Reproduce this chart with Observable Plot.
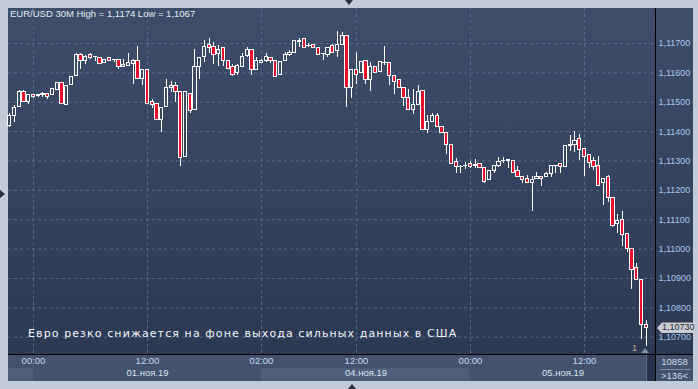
<!DOCTYPE html>
<html><head><meta charset="utf-8">
<script src="https://cdn.jsdelivr.net/npm/d3@7"></script>
<script src="https://cdn.jsdelivr.net/npm/@observablehq/plot@0.6"></script>
<style>
html,body{margin:0;padding:0;background:#c2ccd8;}
#wrap{position:relative;width:698px;height:389px;overflow:hidden;background:#c2ccd8;font-family:"Liberation Sans",Arial,sans-serif;}
#wrap div{position:absolute;}
.bgmain{left:8px;top:8px;width:685px;height:346px;background:linear-gradient(#3e4d6a,#2c3953);}
.bgbottom{left:8px;top:355px;width:685px;height:26px;background:#44526e;}
#plot{left:0;top:0;}
.tri{width:0;height:0;}
</style></head><body>
<div id="wrap">
  <div class="bgmain"></div>
  <div class="bgbottom"></div>
  <div id="plot"></div>
  <div style="left:655px;top:8px;width:1px;height:373px;background:#000"></div>
  <div style="left:8px;top:354px;width:685px;height:1px;background:#000"></div>
  <div style="left:646px;top:355px;width:8px;height:26px;background:#27324c;border-left:1px solid #5e6d88"></div>
  <div id="title" style="left:10px;top:8px;font-size:9.5px;line-height:11px;color:#e6ecf4;white-space:nowrap">EUR/USD 30M High = 1,1174 Low = 1,1067</div>
  <div id="msg" style="left:28px;top:327px;font-family:'DejaVu Sans',sans-serif;font-size:11px;line-height:13px;letter-spacing:1.1px;color:#f4f6f8;white-space:nowrap">Евро резко снижается на фоне выхода сильных данных в США</div>
  <div style="left:632px;top:343px;font-size:9px;line-height:11px;color:#c9b08c">1</div>
  <div class="tri" style="left:641px;top:348px;border-left:4px solid transparent;border-right:4px solid transparent;border-bottom:5px solid #7d8ba3"></div>
  <div style="left:656px;top:356px;width:37px;text-align:center;font-size:9.5px;line-height:11px;color:#d4dce8">10858</div>
  <div style="left:660px;top:369px;width:31px;height:1px;background:#7b8aa3"></div>
  <div style="left:656px;top:370px;width:37px;text-align:center;font-size:9.5px;line-height:11px;color:#d4dce8">&gt;136&lt;</div>
  <div class="tri" style="left:345px;top:0px;border-left:4px solid transparent;border-right:4px solid transparent;border-top:5px solid #2a2f38"></div>
  <div class="tri" style="left:0px;top:190px;border-top:4px solid transparent;border-bottom:4px solid transparent;border-left:5px solid #2a2f38"></div>
  <div class="tri" style="left:348px;top:384px;border-left:4px solid transparent;border-right:4px solid transparent;border-bottom:5px solid #2a2f38"></div>
  <div id="pricebox" style="left:657px;width:36px;height:11px;background:#c9cdd3;clip-path:polygon(0 50%,5px 0,100% 0,100% 100%,5px 100%);"></div>
  <div id="pricetxt" style="left:662px;font-size:9px;line-height:11px;color:#2a2e36"></div>
</div>
<script>
// 30-minute candles, EUR/USD, 31.10.19 21:30 .. 05.11.19 18:30 (index = candle number)
const opens = [1.11420,1.11452,1.11483,1.11536,1.11502,1.11525,1.11521,1.11526,1.11528,1.11525,
1.11543,1.11566,1.11492,1.11559,1.11588,1.11662,1.11639,1.11661,1.11653,1.11651,
1.11634,1.11651,1.11644,1.11644,1.11621,1.11622,1.11631,1.11639,1.11579,1.11610,
1.11502,1.11494,1.11440,1.11483,1.11549,1.11557,1.11534,1.11312,1.11528,1.11474,
1.11621,1.11653,1.11695,1.11689,1.11665,1.11684,1.11639,1.11621,1.11598,1.11621,
1.11659,1.11678,1.11611,1.11634,1.11642,1.11651,1.11639,1.11593,1.11639,1.11661,
1.11668,1.11704,1.11716,1.11692,1.11696,1.11685,1.11663,1.11662,1.11690,1.11673,
1.11696,1.11727,1.11547,1.11610,1.11598,1.11639,1.11577,1.11619,1.11602,1.11632,
1.11634,1.11591,1.11576,1.11549,1.11515,1.11474,1.11492,1.11537,1.11406,1.11432,
1.11452,1.11415,1.11396,1.11355,1.11295,1.11281,1.11283,1.11290,1.11284,1.11290,
1.11276,1.11236,1.11267,1.11284,1.11300,1.11304,1.11301,1.11267,1.11247,1.11239,
1.11224,1.11239,1.11247,1.11244,1.11256,1.11283,1.11290,1.11281,1.11351,1.11355,
1.11375,1.11341,1.11321,1.11301,1.11284,1.11224,1.11247,1.11174,1.11086,1.11100,
1.11052,1.11001,1.10936,1.10895,1.10743];
const highs = [1.11461,1.11489,1.11540,1.11540,1.11526,1.11526,1.11528,1.11534,1.11529,1.11546,
1.11567,1.11567,1.11557,1.11587,1.11665,1.11665,1.11659,1.11665,1.11656,1.11652,
1.11645,1.11652,1.11645,1.11645,1.11644,1.11665,1.11645,1.11689,1.11611,1.11611,
1.11508,1.11495,1.11482,1.11576,1.11570,1.11568,1.11534,1.11534,1.11529,1.11678,
1.11652,1.11710,1.11716,1.11704,1.11693,1.11687,1.11639,1.11628,1.11630,1.11665,
1.11687,1.11679,1.11651,1.11644,1.11665,1.11652,1.11642,1.11636,1.11669,1.11676,
1.11708,1.11716,1.11718,1.11699,1.11697,1.11686,1.11667,1.11686,1.11696,1.11741,
1.11738,1.11727,1.11611,1.11669,1.11636,1.11639,1.11634,1.11621,1.11636,1.11689,
1.11635,1.11591,1.11577,1.11550,1.11545,1.11545,1.11557,1.11540,1.11454,1.11460,
1.11460,1.11417,1.11397,1.11356,1.11309,1.11284,1.11295,1.11298,1.11304,1.11291,
1.11277,1.11267,1.11284,1.11312,1.11312,1.11305,1.11301,1.11281,1.11247,1.11250,
1.11247,1.11261,1.11247,1.11261,1.11284,1.11285,1.11291,1.11352,1.11386,1.11400,
1.11390,1.11342,1.11322,1.11312,1.11315,1.11240,1.11250,1.11175,1.11117,1.11129,
1.11053,1.11002,1.10950,1.10896,1.10756];
const lows = [1.11414,1.11432,1.11482,1.11499,1.11494,1.11513,1.11517,1.11517,1.11511,1.11524,
1.11540,1.11494,1.11489,1.11559,1.11588,1.11613,1.11630,1.11647,1.11639,1.11629,
1.11632,1.11638,1.11635,1.11610,1.11621,1.11622,1.11559,1.11579,1.11557,1.11494,
1.11479,1.11440,1.11398,1.11482,1.11534,1.11500,1.11282,1.11311,1.11462,1.11474,
1.11576,1.11636,1.11665,1.11630,1.11621,1.11621,1.11613,1.11587,1.11591,1.11619,
1.11653,1.11591,1.11608,1.11632,1.11636,1.11632,1.11584,1.11593,1.11639,1.11655,
1.11666,1.11687,1.11685,1.11685,1.11685,1.11661,1.11642,1.11653,1.11666,1.11653,
1.11696,1.11483,1.11513,1.11562,1.11597,1.11562,1.11537,1.11597,1.11602,1.11625,
1.11557,1.11528,1.11546,1.11485,1.11471,1.11458,1.11492,1.11406,1.11392,1.11432,
1.11415,1.11392,1.11321,1.11290,1.11258,1.11256,1.11270,1.11276,1.11276,1.11276,
1.11224,1.11233,1.11258,1.11278,1.11290,1.11273,1.11258,1.11244,1.11224,1.11224,
1.11129,1.11239,1.11213,1.11244,1.11244,1.11256,1.11256,1.11281,1.11333,1.11330,
1.11301,1.11247,1.11273,1.11267,1.11214,1.11148,1.11159,1.11074,1.11054,1.11009,
1.10989,1.10864,1.10895,1.10691,1.10668];
const closes = [1.11454,1.11481,1.11534,1.11500,1.11525,1.11518,1.11525,1.11527,1.11519,1.11545,
1.11566,1.11494,1.11557,1.11587,1.11662,1.11639,1.11655,1.11651,1.11655,1.11630,
1.11644,1.11639,1.11643,1.11621,1.11627,1.11634,1.11642,1.11579,1.11610,1.11494,
1.11492,1.11440,1.11481,1.11549,1.11554,1.11534,1.11310,1.11534,1.11471,1.11621,
1.11651,1.11687,1.11685,1.11661,1.11678,1.11639,1.11613,1.11593,1.11625,1.11653,
1.11678,1.11610,1.11642,1.11642,1.11653,1.11639,1.11587,1.11636,1.11662,1.11668,
1.11708,1.11710,1.11685,1.11690,1.11685,1.11661,1.11665,1.11685,1.11667,1.11696,
1.11727,1.11547,1.11610,1.11593,1.11636,1.11577,1.11619,1.11598,1.11636,1.11634,
1.11588,1.11570,1.11547,1.11515,1.11474,1.11489,1.11536,1.11406,1.11432,1.11452,
1.11417,1.11394,1.11355,1.11290,1.11281,1.11280,1.11284,1.11281,1.11285,1.11276,
1.11230,1.11267,1.11284,1.11295,1.11301,1.11299,1.11258,1.11244,1.11236,1.11224,
1.11236,1.11247,1.11239,1.11256,1.11284,1.11284,1.11281,1.11352,1.11353,1.11369,
1.11338,1.11312,1.11292,1.11281,1.11216,1.11239,1.11174,1.11077,1.11097,1.11049,
1.11001,1.10929,1.10895,1.10743,1.10730];

const timeTicks = [5, 29, 53, 73, 97, 121];
const timeLabels = ["00:00", "12:00", "02:00", "12:00", "00:00", "12:00"];
const dayLabels = ["31.окт.19", "01.ноя.19", "04.ноя.19", "05.ноя.19"];
const dayFirstCandle = [0, 5, 53, 97];
const priceTicks = [1.107, 1.108, 1.109, 1.110, 1.111, 1.112, 1.113, 1.114, 1.115, 1.116, 1.117];

const xDomain = [-0.263, 135.95];
const yDomain = [1.106411, 1.118192];

const candles = opens.map((o, i) => ({i, open: o, high: highs[i], low: lows[i], close: closes[i]}));
const days = dayLabels.map((label, k) => {
  const start = k === 0 ? xDomain[0] : dayFirstCandle[k];
  const end = k + 1 < dayFirstCandle.length ? dayFirstCandle[k + 1] : xDomain[1];
  return {label: (end - start) > 20 ? label : "", start, end, mid: (start + end) / 2, shade: k % 2 === 0 ? "#4f5d7a" : "#44526e"};
});

const RED = "#e5112d";
const fmt = d => d.toFixed(5).replace(".", ",");

const plot = Plot.plot({
  width: 698, height: 389,
  marginLeft: 8, marginRight: 43, marginTop: 8, marginBottom: 35,
  style: {background: "transparent", fontFamily: "'Liberation Sans', Arial, sans-serif", fontSize: "9px", overflow: "visible"},
  x: {type: "linear", domain: xDomain, axis: null},
  y: {type: "linear", domain: yDomain, axis: null},
  marks: [
    Plot.rect(days, {x1: "start", x2: "end", fill: "shade", insetTop: 360, insetBottom: -27}),
    Plot.gridY({ticks: priceTicks, stroke: "#596988", strokeOpacity: 1, strokeDasharray: "3,3"}),
    Plot.gridX({ticks: timeTicks, stroke: "#596988", strokeOpacity: 1, strokeDasharray: "3,3"}),
    Plot.axisY({anchor: "right", ticks: priceTicks, tickSize: 0, tickPadding: 3, tickFormat: fmt, fill: "#a8c7ee", fontSize: 9}),
    Plot.axisX({anchor: "bottom", ticks: timeTicks, tickSize: 0, tickPadding: 3, tickFormat: d => timeLabels[timeTicks.indexOf(d)], fill: "#c4daf4", fontSize: 9.5}),
    Plot.text(days, {x: "mid", frameAnchor: "bottom", dy: 21, text: "label", fill: "#dde5ef", fontSize: 9.5}),
    Plot.ruleX(candles, {x: "i", y1: "high", y2: d => Math.max(d.open, d.close), stroke: "#ffffff", strokeWidth: 1, shapeRendering: "crispEdges"}),
    Plot.ruleX(candles, {x: "i", y1: d => Math.min(d.open, d.close), y2: "low", stroke: "#ffffff", strokeWidth: 1, shapeRendering: "crispEdges"}),
    Plot.rect(candles, {x1: d => d.i - 0.32, x2: d => d.i + 0.32, y1: "open", y2: "close",
      fill: d => d.close < d.open ? RED : "none", stroke: "#ffffff", strokeWidth: 1, shapeRendering: "crispEdges"})
  ]
});
document.getElementById("plot").appendChild(plot);

const yLast = plot.scale("y").apply(closes[closes.length - 1]);
const box = document.getElementById("pricebox");
box.style.top = (yLast - 5.5) + "px";
const txt = document.getElementById("pricetxt");
txt.textContent = fmt(closes[closes.length - 1]);
txt.style.top = (yLast - 5.5) + "px";
</script>
</body></html>
